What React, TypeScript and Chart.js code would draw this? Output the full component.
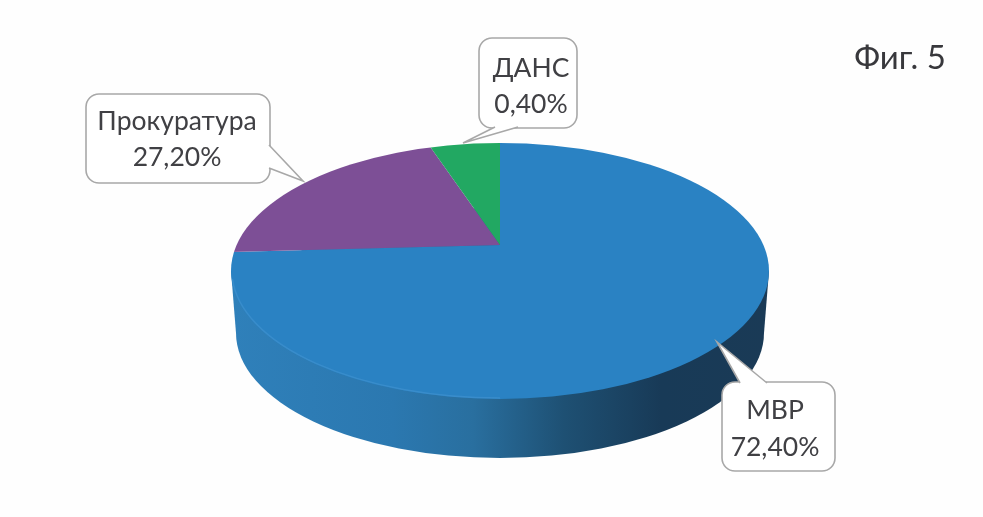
import React, { useEffect, useRef } from "react";
import { Chart, registerables } from "chart.js";

Chart.register(...registerables);

// Printed callout texts
const categories = ["МВР", "Прокуратура", "ДАНС"];
const percentLabels = ["72,40%", "27,20%", "0,40%"];
// Shares as the slices appear in the picture
const sliceShares = [73.9, 21.9, 4.2];
const sliceColors = ["#2a82c3", "#7d4f96", "#22a862"];
const figureTitle = "Фиг. 5";

const FONT = "Lato, 'Open Sans', 'Noto Sans', sans-serif";

// Perspective of the disc
const face = { cx: 500, cy: 271, rx: 269, ry: 128 };
const base = { cx: 500, cy: 333, rx: 264, ry: 125 };
const tilt = 0.38;

// Callout boxes: x, y, w, h and the pointer polygon
const callouts = [
  { box: [722, 382, 113, 89], tail: [[740, 383], [717, 342], [767, 383]], text: [775, 419, 456] },
  { box: [86, 94, 184, 89], tail: [[269, 145], [303, 181], [269, 168]], text: [177, 130, 166] },
  { box: [479, 38, 98, 90], tail: [[495, 127], [463, 143], [518, 127]], text: [531, 77, 113] },
];

const discPlugin = {
  id: "disc",
  beforeDatasetDraw(chart: any) {
    const ctx = chart.ctx;
    const arc = chart.getDatasetMeta(0).data[0];
    // side wall
    const g = ctx.createLinearGradient(face.cx - face.rx, 0, face.cx + face.rx, 0);
    g.addColorStop(0, "#2f80ba");
    g.addColorStop(0.3, "#2b78b0");
    g.addColorStop(0.45, "#296f9f");
    g.addColorStop(0.62, "#1e5073");
    g.addColorStop(0.8, "#183a57");
    g.addColorStop(1, "#1a3a56");
    ctx.save();
    ctx.fillStyle = g;
    ctx.beginPath();
    ctx.ellipse(base.cx, base.cy, base.rx, base.ry, 0, 0, Math.PI * 2);
    ctx.fill();
    ctx.beginPath();
    ctx.moveTo(face.cx - face.rx, face.cy);
    ctx.lineTo(base.cx - base.rx, base.cy);
    ctx.lineTo(base.cx + base.rx, base.cy);
    ctx.lineTo(face.cx + face.rx, face.cy);
    ctx.closePath();
    ctx.fill();
    ctx.restore();
    // top face: slices squashed around their apex and cut to the face outline
    ctx.save();
    ctx.beginPath();
    ctx.ellipse(face.cx, face.cy, face.rx, face.ry, 0, 0, Math.PI * 2);
    ctx.clip();
    ctx.translate(arc.x, arc.y);
    ctx.scale(1, tilt);
    ctx.translate(-arc.x, -arc.y);
  },
  afterDatasetDraw(chart: any) {
    const ctx = chart.ctx;
    ctx.restore();
    // light rim on the front edge
    ctx.save();
    ctx.strokeStyle = "rgba(70,150,210,0.55)";
    ctx.lineWidth = 1.5;
    ctx.beginPath();
    ctx.ellipse(face.cx, face.cy, face.rx - 1, face.ry - 1, 0, Math.PI * 0.5, Math.PI * 0.98);
    ctx.stroke();
    ctx.restore();
  },
  afterDraw(chart: any) {
    const ctx = chart.ctx;
    ctx.save();
    callouts.forEach((c, i) => {
      const [x, y, w, h] = c.box;
      ctx.beginPath();
      ctx.roundRect(x, y, w, h, 13);
      ctx.fillStyle = "#ffffff";
      ctx.strokeStyle = "#a8a8a8";
      ctx.lineWidth = 1.6;
      ctx.fill();
      ctx.stroke();
      ctx.beginPath();
      ctx.moveTo(c.tail[0][0], c.tail[0][1]);
      ctx.lineTo(c.tail[1][0], c.tail[1][1]);
      ctx.lineTo(c.tail[2][0], c.tail[2][1]);
      ctx.closePath();
      ctx.fill();
      ctx.beginPath();
      ctx.moveTo(c.tail[0][0], c.tail[0][1]);
      ctx.lineTo(c.tail[1][0], c.tail[1][1]);
      ctx.lineTo(c.tail[2][0], c.tail[2][1]);
      ctx.stroke();
      ctx.fillStyle = "#404044";
      ctx.font = `26.5px ${FONT}`;
      ctx.textAlign = "center";
      ctx.textBaseline = "alphabetic";
      ctx.fillText(categories[i], c.text[0], c.text[1]);
      ctx.fillText(percentLabels[i], c.text[0], c.text[2]);
    });
    ctx.fillStyle = "#38383c";
    ctx.font = `33px ${FONT}`;
    ctx.textAlign = "center";
    ctx.fillText(figureTitle, 900, 69);
    ctx.restore();
  },
};

export default function App() {
  const ref = useRef<HTMLCanvasElement>(null);
  useEffect(() => {
    const chart = new Chart(ref.current!, {
      type: "pie",
      data: {
        labels: categories,
        datasets: [
          {
            data: sliceShares,
            backgroundColor: sliceColors,
            borderWidth: 0,
            clip: false,
          } as any,
        ],
      },
      options: {
        responsive: false,
        animation: false,
        radius: 430,
        layout: { padding: { left: 17, bottom: 27 } },
        plugins: { legend: { display: false }, tooltip: { enabled: false } },
      } as any,
      plugins: [discPlugin],
    });
    return () => chart.destroy();
  }, []);
  return (
    <div style={{ position: "absolute", left: 0, top: 0, width: 983, height: 517, background: "#fefefe" }}>
      <canvas ref={ref} width={983} height={517} style={{ display: "block" }} />
    </div>
  );
}
